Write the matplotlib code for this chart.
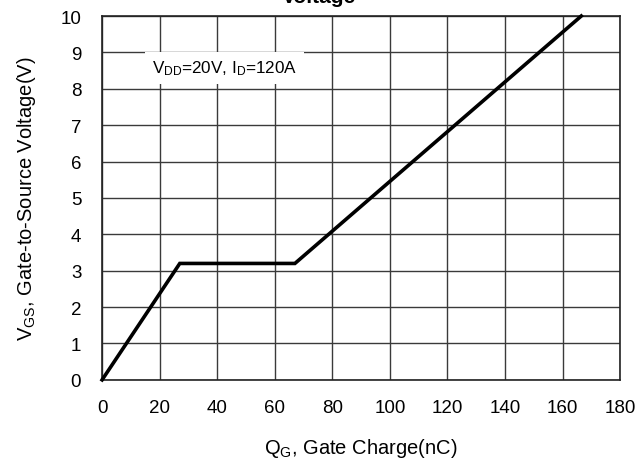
import matplotlib
matplotlib.use("Agg")
import matplotlib.pyplot as plt

plt.rcParams['font.family'] = ['Liberation Sans', 'DejaVu Sans']
plt.rcParams['mathtext.fontset'] = 'custom'
plt.rcParams['mathtext.rm'] = 'Liberation Sans'
plt.rcParams['mathtext.it'] = 'Liberation Sans'

# Gate charge curve (nC, V)
qg = [0, 27, 67, 166.5]
vgs = [0, 3.2, 3.2, 10]

x_ticks = [0, 20, 40, 60, 80, 100, 120, 140, 160, 180]
y_ticks = [0, 1, 2, 3, 4, 5, 6, 7, 8, 9, 10]

fig = plt.figure(figsize=(6.38, 4.60), dpi=100)
ax = fig.add_axes([0.160, 0.172, 0.812, 0.791])

ax.plot(qg, vgs, color='black', lw=2.6, solid_joinstyle='miter', zorder=3, clip_on=False)

ax.set_xlim(0, 180)
ax.set_ylim(0, 10)
ax.set_xticks(x_ticks)
ax.set_yticks(y_ticks)
ax.tick_params(length=0, labelsize=13.5)
ax.tick_params(axis='x', pad=14)
ax.tick_params(axis='y', pad=15)
ax.grid(True, color='#3a3a3a', lw=1.0)
for s in ax.spines.values():
    s.set_color('#222222')
    s.set_linewidth(1.2)

ax.set_xlabel(r'Q$\mathregular{_G}$, Gate Charge(nC)', fontsize=14.5, labelpad=14)
ax.set_ylabel(r'V$\mathregular{_{GS}}$, Gate-to-Source Voltage(V)', fontsize=14.5, labelpad=16)

ax.text(42.5, 8.58, r'V$\mathregular{_{DD}}$=20V, I$\mathregular{_D}$=120A', fontsize=12.3,
        ha='center', va='center', zorder=4,
        bbox=dict(boxstyle='square,pad=0.4', fc='white', ec='none'))

fig.text(0.5, 1 - 3 / 460, 'Voltage', ha='center', va='baseline',
         fontsize=15, fontweight='bold')

fig.savefig('out.png', dpi=100, facecolor='white')
